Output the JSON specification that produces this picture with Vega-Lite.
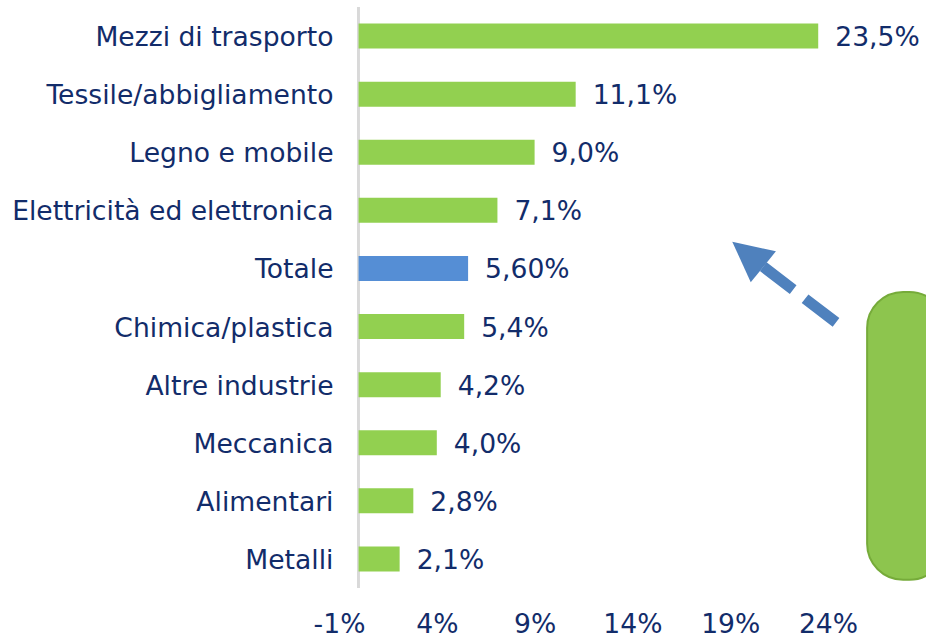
{
  "$schema": "https://vega.github.io/schema/vega-lite/v6.json",
  "width": 489,
  "height": 581,
  "autosize": "none",
  "padding": {"left": 339, "top": 7, "right": 98, "bottom": 50},
  "background": "white",
  "config": {
    "view": {"stroke": null},
    "font": "DejaVu Sans",
    "axis": {"domain": false, "ticks": false, "tickSize": 0, "grid": false, "title": null, "labelFontSize": 26.6, "labelColor": "#122C6A", "labelFont": "DejaVu Sans"}
  },
  "datasets": {
    "sectors": [
      {"settore": "Mezzi di trasporto", "valore": 23.5, "etichetta": "23,5%"},
      {"settore": "Tessile/abbigliamento", "valore": 11.1, "etichetta": "11,1%"},
      {"settore": "Legno e mobile", "valore": 9.0, "etichetta": "9,0%"},
      {"settore": "Elettricità ed elettronica", "valore": 7.1, "etichetta": "7,1%"},
      {"settore": "Totale", "valore": 5.6, "etichetta": "5,60%"},
      {"settore": "Chimica/plastica", "valore": 5.4, "etichetta": "5,4%"},
      {"settore": "Altre industrie", "valore": 4.2, "etichetta": "4,2%"},
      {"settore": "Meccanica", "valore": 4.0, "etichetta": "4,0%"},
      {"settore": "Alimentari", "valore": 2.8, "etichetta": "2,8%"},
      {"settore": "Metalli", "valore": 2.1, "etichetta": "2,1%"}
    ],
    "box": [{"x1": 26.0, "x2": 30.0, "y1": 4.905, "y2": 9.86}],
    "shaft": [{"o": 1, "x": 24.41, "y": 5.43}, {"o": 2, "x": 20.69, "y": 4.47}],
    "head": [{"x": 19.9, "y": 4.255}]
  },
  "layer": [
    {
      "data": {"name": "sectors"},
      "layer": [
        {
          "mark": {"type": "rule", "color": "#D9D9D9", "strokeWidth": 2},
          "encoding": {
            "x": {"datum": 0, "type": "quantitative", "scale": {"domain": [-1, 24], "nice": false, "zero": false}, "axis": {"values": [-1, 4, 9, 14, 19, 24], "labelExpr": "datum.value + '%'", "labelPadding": 23, "labelFlush": false}}
          }
        },
        {
          "mark": {"type": "bar"},
          "encoding": {
            "y": {"field": "settore", "type": "nominal", "sort": null, "scale": {"paddingInner": 0.57, "paddingOuter": 0.285}, "axis": {"labelPadding": 6, "labelLimit": 400, "labelOffset": 2}},
            "x": {"field": "valore", "type": "quantitative", "scale": {"domain": [-1, 24], "nice": false, "zero": false}, "axis": {"values": [-1, 4, 9, 14, 19, 24], "labelExpr": "datum.value + '%'", "labelPadding": 23, "labelFlush": false}},
            "x2": {"datum": 0},
            "color": {"condition": {"test": "datum.settore === 'Totale'", "value": "#558ED5"}, "value": "#92D050"}
          }
        },
        {
          "mark": {"type": "text", "align": "left", "baseline": "middle", "dx": 17, "dy": 2, "fontSize": 26.6, "color": "#122C6A"},
          "encoding": {
            "y": {"field": "settore", "type": "nominal", "sort": null, "scale": {"paddingInner": 0.57, "paddingOuter": 0.285}, "axis": {"labelPadding": 6, "labelLimit": 400, "labelOffset": 2}},
            "x": {"field": "valore", "type": "quantitative", "scale": {"domain": [-1, 24], "nice": false, "zero": false}, "axis": {"values": [-1, 4, 9, 14, 19, 24], "labelExpr": "datum.value + '%'", "labelPadding": 23, "labelFlush": false}},
            "text": {"field": "etichetta"}
          }
        }
      ]
    },
    {
      "layer": [
        {
          "data": {"name": "box"},
          "mark": {"type": "rect", "cornerRadius": 36, "fill": "#8DC54E", "stroke": "#76AB3A", "strokeWidth": 2, "clip": false},
          "encoding": {
            "x": {"field": "x1", "type": "quantitative", "scale": {"domain": [-1, 24], "nice": false, "zero": false}, "axis": null},
            "x2": {"field": "x2"},
            "y": {"field": "y1", "type": "quantitative", "scale": {"domain": [0, 10], "reverse": true, "nice": false, "zero": false}, "axis": null},
            "y2": {"field": "y2"}
          }
        },
        {
          "data": {"name": "shaft"},
          "mark": {"type": "line", "color": "#4F81BD", "strokeWidth": 11, "strokeDash": [39, 15], "strokeCap": "butt", "clip": false},
          "encoding": {
            "x": {"field": "x", "type": "quantitative", "scale": {"domain": [-1, 24], "nice": false, "zero": false}, "axis": null},
            "y": {"field": "y", "type": "quantitative", "scale": {"domain": [0, 10], "reverse": true, "nice": false, "zero": false}, "axis": null},
            "order": {"field": "o"}
          }
        },
        {
          "data": {"name": "head"},
          "mark": {"type": "point", "shape": "M0,-1L-1,1L1,1Z", "size": 1600, "angle": 309, "filled": true, "color": "#4F81BD", "opacity": 1, "clip": false},
          "encoding": {
            "x": {"field": "x", "type": "quantitative", "scale": {"domain": [-1, 24], "nice": false, "zero": false}, "axis": null},
            "y": {"field": "y", "type": "quantitative", "scale": {"domain": [0, 10], "reverse": true, "nice": false, "zero": false}, "axis": null}
          }
        }
      ]
    }
  ],
  "resolve": {"scale": {"x": "independent", "y": "independent"}, "axis": {"x": "independent", "y": "independent"}}
}
